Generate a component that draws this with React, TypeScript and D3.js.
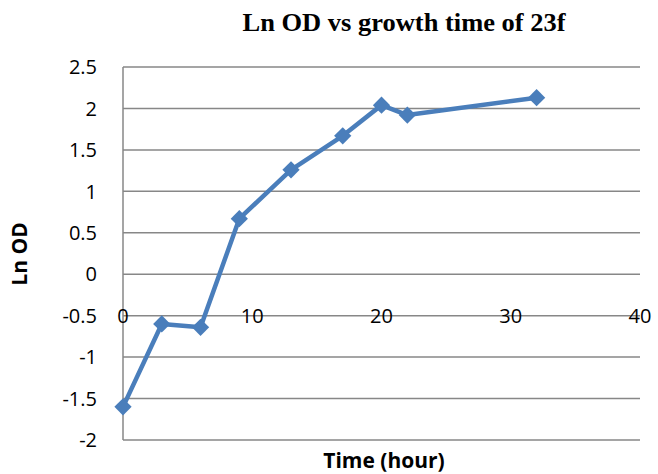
import React from "react";
import * as d3 from "d3";

const timeHours = [0, 3, 6, 9, 13, 17, 20, 22, 32];
const lnOD = [-1.6, -0.6, -0.64, 0.67, 1.26, 1.67, 2.04, 1.92, 2.13];
const xTicks = [0, 10, 20, 30, 40];
const yTicks = [-2, -1.5, -1, -0.5, 0, 0.5, 1, 1.5, 2, 2.5];

const W = 658;
const H = 474;
const margin = { left: 123, right: 18, top: 67, bottom: 34 };

export default function App() {
  const x = d3.scaleLinear().domain([0, 40]).range([margin.left, W - margin.right]);
  const y = d3.scaleLinear().domain([-2, 2.5]).range([H - margin.bottom, margin.top]);
  const line = d3
    .line<number>()
    .x((_, i) => x(timeHours[i]))
    .y((d) => y(d));
  const diamond = d3.symbol().type(d3.symbolDiamond2).size(190)();
  const sans = "'Open Sans', 'Liberation Sans', sans-serif";
  const grid = "#878787";
  const blue = "#4a7ebb";
  return (
    <svg width={W} height={H} style={{ position: "absolute", left: 0, top: 0 }}>
      <rect width={W} height={H} fill="#fff" />
      <text
        x={404}
        y={31}
        textAnchor="middle"
        fontFamily="'Liberation Serif', 'Times New Roman', serif"
        fontWeight="bold"
        fontSize={25}
        textLength={323}
        lengthAdjust="spacingAndGlyphs"
      >
        Ln OD vs growth time of 23f
      </text>
      {yTicks.map((t) => (
        <g key={t}>
          <line x1={x(0)} x2={x(40)} y1={y(t)} y2={y(t)} stroke={grid} strokeWidth={1.5} />
          <text
            x={97}
            y={y(t)}
            dy="0.36em"
            textAnchor="end"
            fontFamily={sans}
            fontSize={20}
            fill="#000"
          >
            {t}
          </text>
        </g>
      ))}
      <line x1={x(0)} x2={x(0)} y1={y(2.5)} y2={y(-2)} stroke={grid} strokeWidth={1.5} />
      {xTicks.map((t) => (
        <text
          key={t}
          x={x(t)}
          y={y(-0.5)}
          dy="0.36em"
          textAnchor="middle"
          fontFamily={sans}
          fontSize={20}
          fill="#000"
        >
          {t}
        </text>
      ))}
      <path d={line(lnOD) || ""} fill="none" stroke={blue} strokeWidth={4.5} strokeLinejoin="round" />
      {lnOD.map((v, i) => (
        <path key={i} d={diamond || ""} transform={`translate(${x(timeHours[i])},${y(v)})`} fill={blue} />
      ))}
      <text
        x={384}
        y={468}
        textAnchor="middle"
        fontFamily={sans}
        fontWeight="bold"
        fontSize={21}
      >
        Time (hour)
      </text>
      <text
        transform={`translate(27,254) rotate(-90)`}
        textAnchor="middle"
        fontFamily={sans}
        fontWeight="bold"
        fontSize={21}
      >
        Ln OD
      </text>
    </svg>
  );
}
